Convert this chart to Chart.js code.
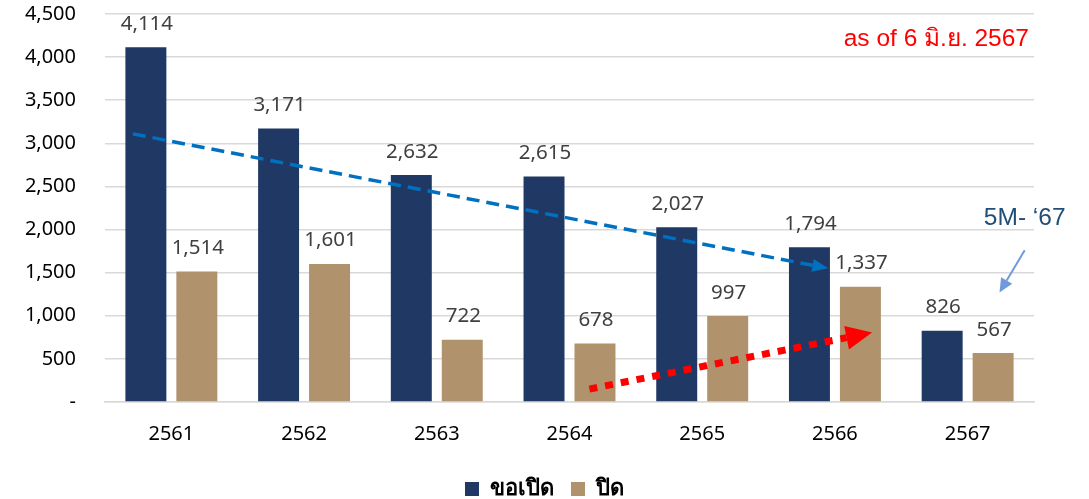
<!DOCTYPE html>
<html lang="th">
<head>
  <meta charset="utf-8">
  <title>ขอเปิด / ปิด 2561-2567</title>
  <script src="https://cdn.jsdelivr.net/npm/chart.js@4.4.1/dist/chart.umd.min.js"></script>
  <style>
    html, body { margin: 0; padding: 0; background: #fff; }
    .wrapper { width: 1089px; height: 499px; }
  </style>
</head>
<body>
  <div class="wrapper">
    <canvas id="chart-0"></canvas>
  </div>

  <script>
    // data
    let years = ['2561', '2562', '2563', '2564', '2565', '2566', '2567'];
    let opened = [4114, 3171, 2632, 2615, 2027, 1794, 826];
    let closed = [1514, 1601, 722, 678, 997, 1337, 567];
    let yMax = 4500;
    let yStep = 500;

    // trend arrows, in (category index, value) space
    let downTrend = [[-0.29, 3110], [4.95, 1550]];
    let upTrend = [[3.15, 150], [5.28, 805]];
    let noteArrow = [[6.43, 1760], [6.24, 1270]];

    let navy = '#203864';
    let tan = '#B0926C';
    let font = "'Noto Sans', 'Open Sans', sans-serif";

    function arrow(ctx, x1, y1, x2, y2, opt) {
      let ang = Math.atan2(y2 - y1, x2 - x1);
      let bx = x2 - Math.cos(ang) * opt.headLen;
      let by = y2 - Math.sin(ang) * opt.headLen;
      ctx.save();
      ctx.strokeStyle = opt.color;
      ctx.fillStyle = opt.color;
      ctx.lineWidth = opt.width;
      ctx.setLineDash(opt.dash || []);
      ctx.lineCap = 'butt';
      ctx.beginPath();
      ctx.moveTo(x1, y1);
      ctx.lineTo(bx, by);
      ctx.stroke();
      ctx.setLineDash([]);
      let hw = opt.headWidth / 2;
      ctx.beginPath();
      ctx.moveTo(x2, y2);
      ctx.lineTo(bx + Math.sin(ang) * hw, by - Math.cos(ang) * hw);
      ctx.lineTo(bx - Math.sin(ang) * hw, by + Math.cos(ang) * hw);
      ctx.closePath();
      ctx.fill();
      ctx.restore();
    }

    let extras = {
      id: 'extras',
      afterDatasetsDraw(chart) {
        let ctx = chart.ctx;
        let xs = chart.scales.x, ys = chart.scales.y;
        let px = (p) => [xs.getPixelForValue(p[0]), ys.getPixelForValue(p[1])];

        // value labels above bars
        ctx.save();
        ctx.font = '20.5px ' + font;
        ctx.fillStyle = '#404040';
        ctx.textAlign = 'center';
        ctx.textBaseline = 'alphabetic';
        chart.data.datasets.forEach((ds, i) => {
          chart.getDatasetMeta(i).data.forEach((bar, j) => {
            ctx.fillText(ds.data[j].toLocaleString('en-US'), bar.x + 1, bar.y - 17.5);
          });
        });
        ctx.restore();

        let a = px(downTrend[0]), b = px(downTrend[1]);
        arrow(ctx, a[0], a[1], b[0], b[1], {color: '#0070C0', width: 3.5, dash: [13, 7], headLen: 16, headWidth: 13});
        a = px(upTrend[0]); b = px(upTrend[1]);
        arrow(ctx, a[0], a[1], b[0], b[1], {color: '#FF0000', width: 7, dash: [8, 8], headLen: 26, headWidth: 24});
        a = px(noteArrow[0]); b = px(noteArrow[1]);
        arrow(ctx, a[0], a[1], b[0], b[1], {color: '#6F9BDD', width: 2, headLen: 14, headWidth: 13});

        ctx.save();
        ctx.textBaseline = 'middle';
        ctx.textAlign = 'right';
        ctx.fillStyle = '#FF0000';
        ctx.font = "24.5px 'Liberation Sans', Arial, sans-serif";
        ctx.fillText('as of 6 มิ.ย. 2567', chart.chartArea.right - 5, ys.getPixelForValue(4210));
        ctx.textAlign = 'center';
        ctx.fillStyle = '#1F4E79';
        ctx.font = "24.5px 'Liberation Sans', Arial, sans-serif";
        ctx.fillText('5M- ‘67', xs.getPixelForValue(6.43), ys.getPixelForValue(2130));
        ctx.restore();
      }
    };

    let chart = new Chart('chart-0', {
      type: 'bar',
      data: {
        labels: years,
        datasets: [
          {label: 'ขอเปิด', data: opened, backgroundColor: navy},
          {label: 'ปิด', data: closed, backgroundColor: tan}
        ]
      },
      options: {
        responsive: true,
        maintainAspectRatio: false,
        animation: false,
        categoryPercentage: 0.768,
        barPercentage: 0.804,
        layout: {padding: {top: 14, right: 0, left: 0, bottom: -11}},
        plugins: {
          legend: {
            position: 'bottom',
            labels: {
              color: '#000',
              font: {family: font, size: 22, weight: 'bold'},
              boxWidth: 14,
              boxHeight: 14,
              padding: 17
            }
          },
          tooltip: {enabled: false}
        },
        scales: {
          x: {
            grid: {display: false, drawTicks: false},
            border: {color: '#D9D9D9', width: 1.5},
            ticks: {color: '#000', padding: 20, font: {family: font, size: 20}},
            afterFit: (s) => { s.height = 59; s.paddingRight = 55; s.paddingLeft = 0; }
          },
          y: {
            min: 0,
            max: yMax,
            grid: {color: '#D9D9D9', lineWidth: 1.5, drawTicks: false},
            border: {display: false},
            ticks: {
              stepSize: yStep,
              color: '#000',
              padding: 29,
              font: {family: font, size: 20},
              callback: (v) => v === 0 ? '-' : v.toLocaleString('en-US')
            },
            afterFit: (s) => { s.width = 105; s.paddingTop = 0; s.paddingBottom = 0; }
          }
        }
      },
      plugins: [extras]
    });
  </script>
</body>
</html>
